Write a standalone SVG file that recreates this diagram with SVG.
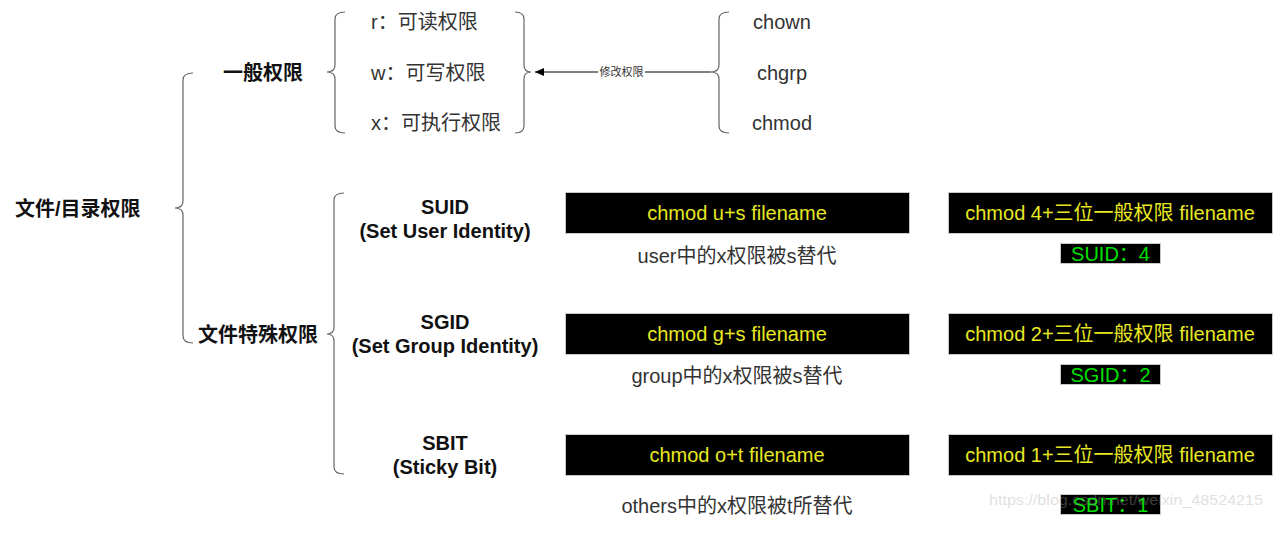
<svg xmlns="http://www.w3.org/2000/svg" width="1280" height="552" viewBox="0 0 1280 552">
<defs>
<style>
text{font-family:"Liberation Sans","Noto Sans CJK SC",sans-serif;font-size:20px;dominant-baseline:central;}
.t{fill:#333333;}
.b{font-weight:bold;fill:#111111;}
.mid{text-anchor:middle;}
.brace{fill:none;stroke:#666666;stroke-width:1.2;}
.cmd{fill:#000000;stroke:#c8c8c8;stroke-width:1;}
.yel{fill:#E8E820;text-anchor:middle;}
.tag{fill:#000000;stroke:#c8c8c8;stroke-width:1;}
.grn{fill:#00E000;text-anchor:middle;}
.edge{fill:none;stroke:#000000;stroke-width:1;}
</style>
<marker id="arrow" markerWidth="10" markerHeight="8" refX="9" refY="4" orient="auto" markerUnits="userSpaceOnUse">
<path d="M0,0 L9,4 L0,8 Z" fill="#000000"/>
</marker>
</defs>
<rect width="1280" height="552" fill="#ffffff"/>

<g id="root">
<text class="b" x="15" y="209">文件/目录权限</text>
<path class="brace" d="M193,73 Q183,73 183,80 L183,201 Q183,208 175,208 Q183,208 183,215 L183,336 Q183,343 193,343"/>
</g>

<g id="general">
<text class="b" x="223" y="73">一般权限</text>
<path class="brace" d="M345,12 Q335,12 335,19 L335,65 Q335,72 327,72 Q335,72 335,79 L335,126 Q335,133 345,133"/>
</g>

<g id="perm-r"><text class="t" x="371" y="22">r：可读权限</text></g>
<g id="perm-w"><text class="t" x="371" y="73">w：可写权限</text></g>
<g id="perm-x"><text class="t" x="371" y="123">x：可执行权限</text></g>
<g id="perm-brace">
<path class="brace" d="M515,12 Q524,12 524,19 L524,65 Q524,72 531,72 Q524,72 524,79 L524,126 Q524,133 515,133"/>
</g>

<g id="cmds">
<path class="brace" d="M729,12 Q719,12 719,19 L719,65 Q719,72 711,72 Q719,72 719,79 L719,126 Q719,133 729,133"/>
<text class="t mid" x="782" y="22">chown</text>
<text class="t mid" x="782" y="73">chgrp</text>
<text class="t mid" x="782" y="123">chmod</text>
</g>

<g id="connectors">
<path class="edge" d="M711,72 L535,72" marker-end="url(#arrow)"/>
<rect x="598" y="65" width="47" height="14" fill="#ffffff"/>
<text class="t mid" x="621.5" y="72" style="font-size:11px">修改权限</text>
</g>

<g id="special">
<text class="b" x="198" y="335">文件特殊权限</text>
<path class="brace" d="M344,193 Q334,193 334,200 L334,327 Q334,334 327,334 Q334,334 334,341 L334,467 Q334,474 344,474"/>
</g>

<g id="suid">
<text class="b mid" x="445" y="207">SUID</text>
<text class="b mid" x="445" y="231">(Set User Identity)</text>
<rect class="cmd" x="565.5" y="192.5" width="344" height="41"/>
<text class="yel" x="737" y="213">chmod u+s filename</text>
<text class="t mid" x="737" y="256">user中的x权限被s替代</text>
<rect class="cmd" x="948.5" y="192.5" width="324" height="41"/>
<text class="yel" x="1110" y="213">chmod 4+三位一般权限 filename</text>
<rect class="tag" x="1060.5" y="243.5" width="100" height="20"/>
<text class="grn" x="1110.5" y="254">SUID：4</text>
</g>

<g id="sgid">
<text class="b mid" x="445" y="322">SGID</text>
<text class="b mid" x="445" y="346">(Set Group Identity)</text>
<rect class="cmd" x="565.5" y="313.5" width="344" height="41"/>
<text class="yel" x="737" y="334">chmod g+s filename</text>
<text class="t mid" x="737" y="376">group中的x权限被s替代</text>
<rect class="cmd" x="948.5" y="313.5" width="324" height="41"/>
<text class="yel" x="1110" y="334">chmod 2+三位一般权限 filename</text>
<rect class="tag" x="1060.5" y="364.5" width="100" height="20"/>
<text class="grn" x="1110.5" y="375">SGID：2</text>
</g>

<g id="sbit">
<text class="b mid" x="445" y="443">SBIT</text>
<text class="b mid" x="445" y="467">(Sticky Bit)</text>
<rect class="cmd" x="565.5" y="434.5" width="344" height="41"/>
<text class="yel" x="737" y="455">chmod o+t filename</text>
<text class="t mid" x="737" y="506">others中的x权限被t所替代</text>
<rect class="cmd" x="948.5" y="434.5" width="324" height="41"/>
<text class="yel" x="1110" y="455">chmod 1+三位一般权限 filename</text>
<rect class="tag" x="1060.5" y="494.5" width="100" height="20"/>
<text class="grn" x="1110.5" y="505">SBIT：1</text>
</g>

<g id="watermark">
<text x="989" y="499" textLength="274" lengthAdjust="spacingAndGlyphs" style="font-size:15px;fill:#aaaaaa;opacity:0.35">https://blog.csdn.net/weixin_48524215</text>
</g>
</svg>
